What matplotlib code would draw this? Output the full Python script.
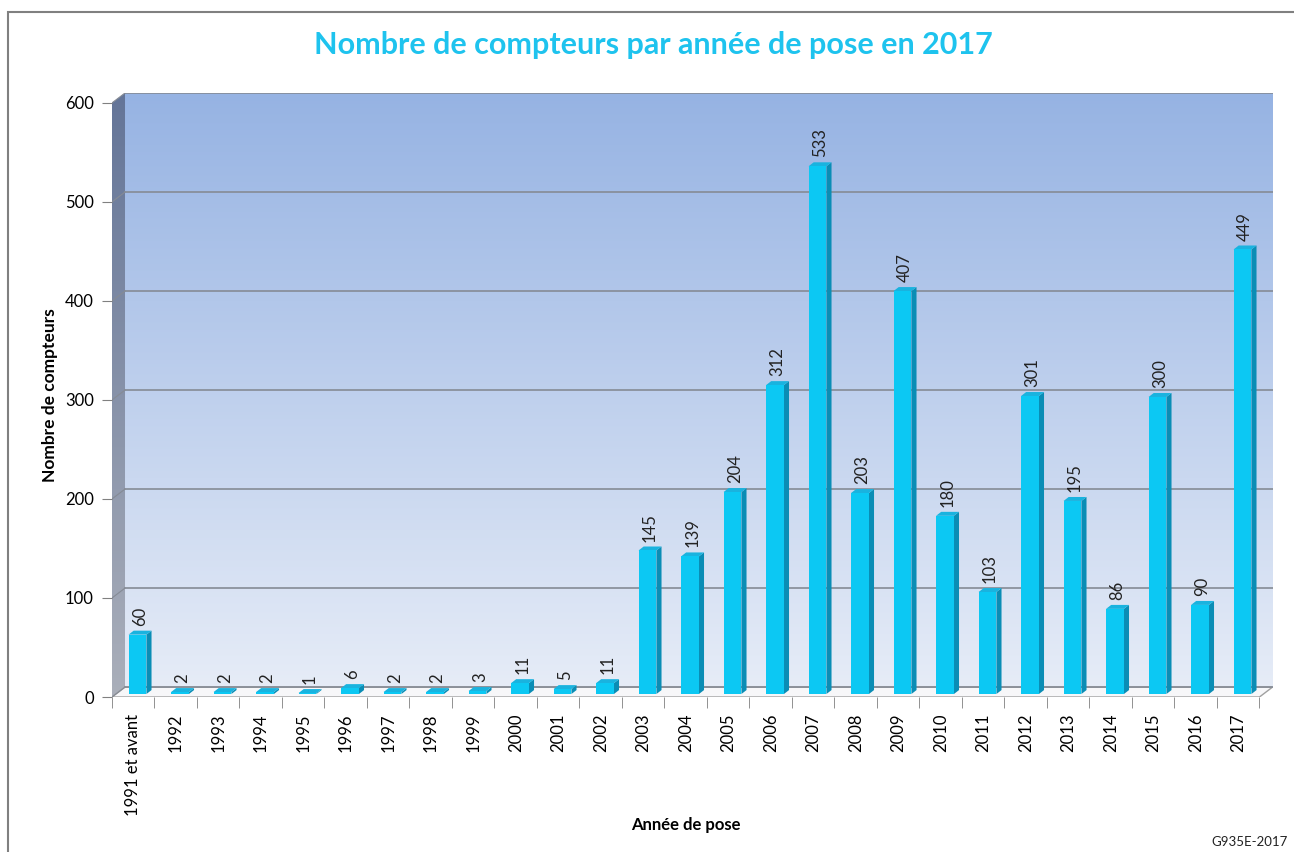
import numpy as np
import matplotlib
matplotlib.use("Agg")
import matplotlib.pyplot as plt
from matplotlib.patches import Polygon, Rectangle

plt.rcParams['font.family'] = ['Lato', 'DejaVu Sans']

categories = ["1991 et avant", "1992", "1993", "1994", "1995", "1996", "1997", "1998",
              "1999", "2000", "2001", "2002", "2003", "2004", "2005", "2006", "2007",
              "2008", "2009", "2010", "2011", "2012", "2013", "2014", "2015", "2016", "2017"]
values = [60, 2, 2, 2, 1, 6, 2, 2, 3, 11, 5, 11, 145, 139, 204, 312, 533,
          203, 407, 180, 103, 301, 195, 86, 300, 90, 449]
yticks = [0, 100, 200, 300, 400, 500, 600]

# 3D look: depth offset of the back wall (in data units)
DX, DY = 0.306, 10
n = len(categories)
x0, x1 = -0.5, n - 0.5
ymax = 600

fig = plt.figure(figsize=(12.94, 8.52), dpi=100)
fig.patches.append(Rectangle((8 / 1294, -0.1), 1.2, (852 - 12) / 852 + 0.1,
                             transform=fig.transFigure, fill=False,
                             edgecolor='#808080', lw=1.5))
ax = fig.add_axes([112 / 1294, (852 - 697) / 852, 1160.5 / 1294, 604 / 852])
ax.set_xlim(x0, x1 + DX)
ax.set_ylim(0, ymax + DY)
ax.patch.set_visible(False)
for s in ax.spines.values():
    s.set_visible(False)

# back wall gradient
grad = np.linspace(0, 1, 256).reshape(-1, 1)
top_c = np.array([150, 179, 227]) / 255
bot_c = np.array([230, 236, 247]) / 255
img = top_c[None, None, :] * (1 - grad[:, :, None]) + bot_c[None, None, :] * grad[:, :, None]
ax.imshow(img, extent=(x0 + DX, x1 + DX, DY, ymax + DY), aspect='auto',
          origin='upper', zorder=0)

# side wall
side_top = np.array([100, 117, 152]) / 255
side_bot = np.array([170, 175, 186]) / 255
simg = side_top[None, None, :] * (1 - grad[:, :, None]) + side_bot[None, None, :] * grad[:, :, None]
side = Polygon([(x0, 0), (x0 + DX, DY), (x0 + DX, ymax + DY), (x0, ymax)],
               closed=True, facecolor='none', edgecolor='none')
ax.add_patch(side)
im2 = ax.imshow(simg, extent=(x0, x0 + DX, 0, ymax + DY), aspect='auto',
                origin='upper', zorder=0)
im2.set_clip_path(side)

# floor
ax.add_patch(Polygon([(x0, 0), (x1, 0), (x1 + DX, DY), (x0 + DX, DY)], closed=True,
                     facecolor='#f7f7f9', edgecolor='#a0a0a0', lw=1, zorder=0.5))

# gridlines
for v in yticks:
    ax.plot([x0 + DX, x1 + DX], [v + DY, v + DY], color='#858b95', lw=1.2, zorder=0.6)
    ax.plot([x0, x0 + DX], [v, v + DY], color='#858b95', lw=0.8, zorder=0.6)

# bars
w, bx, by = 0.42, 0.12, 4
ox, oy = 0.10, 3
front_c, side_c, top_c2 = '#0cc8f3', '#0a8db5', '#19b3df'
for i, v in enumerate(values):
    xl = i + ox - w / 2
    xr = i + ox + w / 2
    ax.add_patch(Polygon([(xr, oy), (xr + bx, oy + by), (xr + bx, oy + v + by), (xr, oy + v)],
                         closed=True, facecolor=side_c, edgecolor='none', zorder=2))
    ax.add_patch(Polygon([(xl, oy + v), (xr, oy + v), (xr + bx, oy + v + by), (xl + bx, oy + v + by)],
                         closed=True, facecolor=top_c2, edgecolor='none', zorder=2))
    ax.add_patch(Rectangle((xl, oy), w, v, facecolor=front_c, edgecolor='none', zorder=2))
    ax.text(i + ox + bx / 2, oy + v + by + 5, str(v), rotation=90, ha='center',
            va='bottom', fontsize=12, color='#222222', zorder=3)

# axes ticks
ax.set_yticks(yticks)
ax.set_yticklabels([str(t) for t in yticks], fontsize=12)
ax.set_xticks(range(n))
ax.set_xticklabels(categories, rotation=90, fontsize=12)
ax.set_xticks([i - 0.5 for i in range(n + 1)], minor=True)
ax.tick_params(axis='y', length=7, color='#808080', pad=6)
ax.tick_params(axis='x', which='major', length=0, pad=12)
ax.tick_params(axis='x', which='minor', length=8, color='#808080')

fig.text(50 / 1294, 1 - 395 / 852, "Nombre de compteurs", rotation=90, ha='center',
         va='center', fontsize=12.5, fontweight='bold')
fig.text(686 / 1294, 1 - 825 / 852, "Année de pose", ha='center', va='center',
         fontsize=12, fontweight='bold')

fig.text(653 / 1294, 1 - 45 / 852, "Nombre de compteurs par année de pose en 2017",
         ha='center', va='center', fontsize=22, fontweight='bold', color='#1ec3ee')
fig.text(1288 / 1294, 1 - 842 / 852, "G935E-2017", ha='right', va='center', fontsize=9.5,
         color='#222222')

fig.savefig("out.png", dpi=100)
